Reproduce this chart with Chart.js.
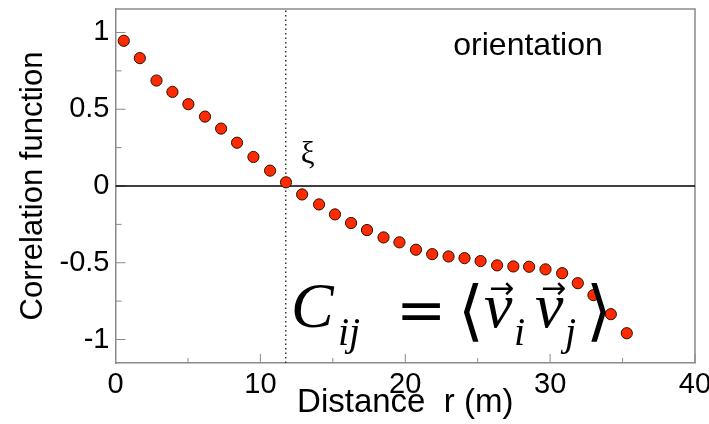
<!DOCTYPE html>
<html>
<head>
<meta charset="utf-8">
<script src="https://cdn.jsdelivr.net/npm/chart.js@4/dist/chart.umd.min.js"></script>
<style>
  html, body { margin: 0; padding: 0; background: #fff; overflow: hidden; }
  #wrap { position: absolute; left: 0; top: 0; width: 709px; height: 424px; }
</style>
</head>
<body>
<div id="wrap"><canvas id="c"></canvas></div>
<script>
// ---- data ----
const distance = [0.57, 1.68, 2.83, 3.93, 5.03, 6.18, 7.29, 8.39, 9.52, 10.67, 11.77, 12.88,
                  14.05, 15.15, 16.26, 17.36, 18.5, 19.6, 20.74, 21.86, 22.99, 24.09, 25.2,
                  26.34, 27.46, 28.55, 29.68, 30.83, 31.91, 32.99, 34.19, 35.29];
const correlation = [0.946, 0.833, 0.687, 0.613, 0.533, 0.452, 0.374, 0.282, 0.189, 0.100, 0.024, -0.055,
                     -0.12, -0.185, -0.241, -0.287, -0.335, -0.367, -0.415, -0.444, -0.459, -0.470, -0.489,
                     -0.517, -0.524, -0.526, -0.543, -0.568, -0.633, -0.711, -0.835, -0.959];
const xi = 11.75;
const xRange = [0, 40];
const yRange = [-1.153, 1.153];
const xTicks = [0, 10, 20, 30, 40];
const xMinorTicks = [5, 15, 25, 35];
const yTicks = [-1, -0.5, 0, 0.5, 1];
const yMinorTicks = [-0.75, -0.25, 0.25, 0.75];
const panelLabel = 'orientation';
const xiLabel = 'ξ';
const xTitle = 'Distance  r (m)';
const yTitle = 'Correlation function';

const points = distance.map((r, i) => ({ x: r, y: correlation[i] }));
const zeroLine = [{ x: xRange[0], y: 0 }, { x: xRange[1], y: 0 }];
const xiLine = [{ x: xi, y: yRange[0] }, { x: xi, y: yRange[1] }];

const SANS = '"Liberation Sans", Arial, Helvetica, sans-serif';
const SERIF = '"Liberation Serif", "DejaVu Serif", "DejaVu Sans", serif';
const AXIS_COL = '#8a8a8a';

const decor = {
  id: 'decor',
  beforeDatasetsDraw(chart) {
    const { ctx, chartArea: a, scales: { x, y } } = chart;
    ctx.save();
    ctx.strokeStyle = AXIS_COL;
    ctx.lineWidth = 1.5;
    ctx.beginPath();
    ctx.moveTo(a.left, a.top); ctx.lineTo(a.right, a.top); ctx.lineTo(a.right, a.bottom);
    ctx.stroke();
    ctx.lineWidth = 1;
    ctx.beginPath();
    yTicks.forEach(v => { const p = y.getPixelForValue(v); ctx.moveTo(a.left, p); ctx.lineTo(a.left + 10, p); });
    yMinorTicks.forEach(v => { const p = y.getPixelForValue(v); ctx.moveTo(a.left, p); ctx.lineTo(a.left + 6, p); });
    xTicks.forEach(v => { const p = x.getPixelForValue(v); ctx.moveTo(p, a.bottom); ctx.lineTo(p, a.bottom - 9); });
    xMinorTicks.forEach(v => { const p = x.getPixelForValue(v); ctx.moveTo(p, a.bottom); ctx.lineTo(p, a.bottom - 5); });
    ctx.stroke();
    ctx.restore();
  },
  afterDraw(chart) {
    const { ctx, scales: { x } } = chart;
    ctx.save();
    ctx.fillStyle = '#000';
    ctx.textBaseline = 'alphabetic';
    ctx.font = '32px ' + SANS;
    ctx.textAlign = 'center';
    ctx.fillText(panelLabel, 528, 55);
    ctx.font = '31px ' + SERIF;
    ctx.fillText(xiLabel, x.getPixelForValue(xi) + 22, 163);
    ctx.textAlign = 'left';
    ctx.font = 'italic 64px ' + SERIF;
    ctx.fillText('C', 291, 327);
    ctx.font = 'italic 40px ' + SERIF;
    ctx.fillText('ij', 338, 345);
    ctx.font = '60px "DejaVu Serif", serif';
    ctx.fillText('=', 396, 330);
    ctx.font = '66px "DejaVu Serif", "DejaVu Sans", serif';
    ctx.fillText('⟨', 458, 333);
    ctx.font = 'italic 64px ' + SERIF;
    ctx.fillText('v', 484, 327);
    ctx.fillText('v', 535, 327);
    ctx.font = '30px "DejaVu Sans", sans-serif';
    ctx.fillText('→', 489, 298);
    ctx.fillText('→', 541, 298);
    ctx.font = 'italic 40px ' + SERIF;
    ctx.fillText('i', 514, 345);
    ctx.fillText('j', 565, 345);
    ctx.font = '66px "DejaVu Serif", "DejaVu Sans", serif';
    ctx.fillText('⟩', 586, 333);
    ctx.restore();
  }
};

new Chart(document.getElementById('c'), {
  type: 'scatter',
  data: {
    datasets: [
      {
        label: 'C(r)', data: points, order: 0,
        backgroundColor: '#ff2a00', borderColor: '#2a1000', borderWidth: 1,
        pointRadius: 5.6, pointHoverRadius: 5.6
      },
      {
        label: 'zero', data: zeroLine, showLine: true, order: 2,
        borderColor: '#000', borderWidth: 1.5, pointRadius: 0
      },
      {
        label: 'xi', data: xiLine, showLine: true, order: 1,
        borderColor: '#333', borderWidth: 1.5, borderDash: [1.5, 3], pointRadius: 0
      }
    ]
  },
  plugins: [decor],
  options: {
    responsive: true,
    maintainAspectRatio: false,
    animation: false,
    layout: { padding: { top: 9, left: 0, right: 14, bottom: 0 } },
    plugins: { legend: { display: false }, tooltip: { enabled: false } },
    scales: {
      x: {
        type: 'linear', min: xRange[0], max: xRange[1],
        afterBuildTicks: s => { s.ticks = xTicks.map(v => ({ value: v })); },
        afterFit: s => { s.height = 61; s.paddingLeft = 0; s.paddingRight = 0; },
        grid: { display: true, drawOnChartArea: false, drawTicks: false },
        border: { display: true, color: AXIS_COL, width: 1.5 },
        ticks: { color: '#000', font: { family: SANS, size: 29 }, padding: 5, maxRotation: 0 },
        title: { display: true, text: xTitle, color: '#000', font: { family: SANS, size: 33 }, padding: { top: 0, bottom: 1 } }
      },
      y: {
        type: 'linear', min: yRange[0], max: yRange[1],
        afterBuildTicks: s => { s.ticks = yTicks.map(v => ({ value: v })); },
        afterFit: s => { s.width = 115.5; s.paddingTop = 0; s.paddingBottom = 0; },
        grid: { display: true, drawOnChartArea: false, drawTicks: false },
        border: { display: true, color: AXIS_COL, width: 1.5 },
        ticks: { color: '#000', font: { family: SANS, size: 29 }, padding: 6,
                 callback: v => String(v) },
        title: { display: true, text: yTitle, color: '#000', font: { family: SANS, size: 31 }, padding: { top: 15, bottom: 0 } }
      }
    }
  }
});
</script>
</body>
</html>
